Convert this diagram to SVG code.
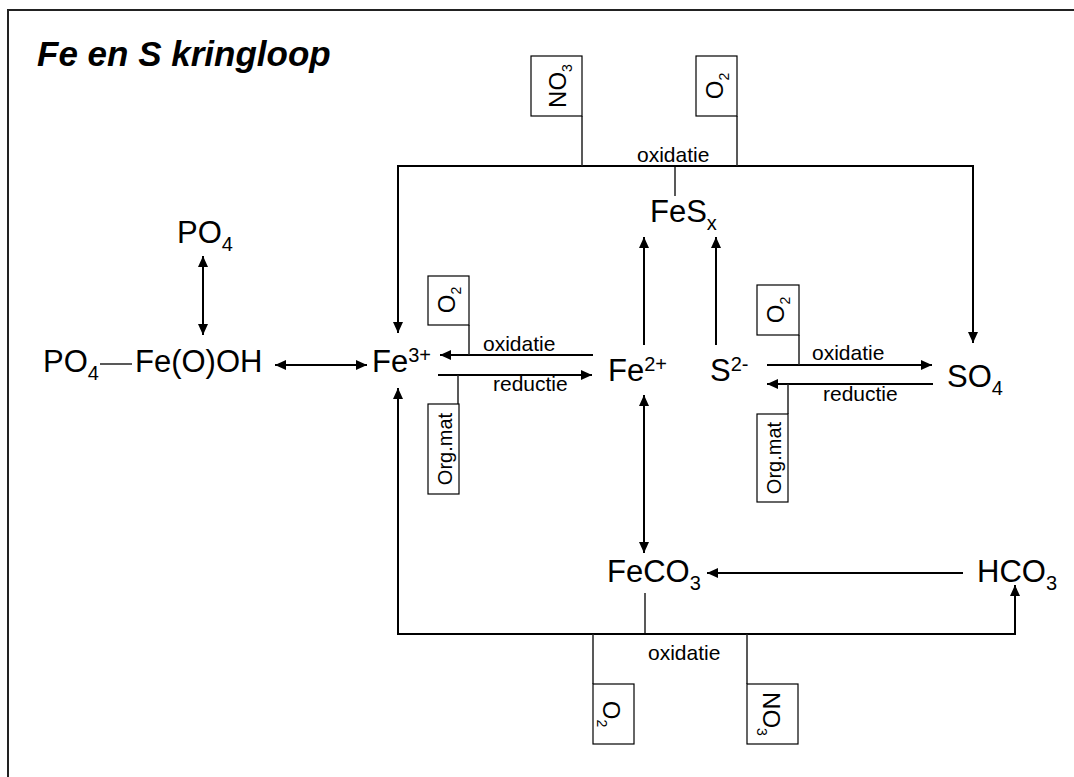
<svg xmlns="http://www.w3.org/2000/svg" width="1074" height="777" viewBox="0 0 1074 777">
<style>
text{font-family:"Liberation Sans",Arial,sans-serif;fill:#000}
.chem{font-size:31px}
.sm{font-size:20px}
.lbl{font-size:21px}
.box{fill:#fff;stroke:#000;stroke-width:1.2}
.bt{font-size:24px}
.bo{font-size:20px}
.bs{font-size:14px}
.ln{fill:none;stroke:#222;stroke-width:1.5}
.ar{fill:none;stroke:#000;stroke-width:2}
</style>
<defs>
<marker id="ah" markerUnits="userSpaceOnUse" markerWidth="11" markerHeight="10" refX="11" refY="5" orient="auto-start-reverse">
<path d="M0,0 L11,5 L0,10 z" fill="#000"/>
</marker>
</defs>
<rect width="1074" height="777" fill="#fff"/>
<path d="M8,777 L8,10 L1074,10" fill="none" stroke="#222" stroke-width="2"/>
<text x="37" y="66" font-size="35" font-weight="bold" font-style="italic">Fe en S kringloop</text>

<g id="connectors">
<line class="ar" x1="203" y1="256" x2="203" y2="335" marker-start="url(#ah)" marker-end="url(#ah)"/>
<line class="ln" x1="100" y1="364" x2="132" y2="364"/>
<line class="ar" x1="275" y1="365" x2="367" y2="365" marker-start="url(#ah)" marker-end="url(#ah)"/>
<path class="ln" d="M675,196 L675,166"/>
<path class="ar" d="M398,333 L398,166 L973,166 L973,343" stroke-width="1.8" marker-start="url(#ah)" marker-end="url(#ah)"/>
<line class="ln" x1="582" y1="116" x2="582" y2="166"/>
<line class="ln" x1="737" y1="116" x2="737" y2="166"/>
<line class="ar" x1="593" y1="355" x2="440" y2="355" marker-end="url(#ah)"/>
<line class="ln" x1="469" y1="325" x2="469" y2="355"/>
<line class="ar" x1="438" y1="375" x2="592" y2="375" marker-end="url(#ah)"/>
<line class="ln" x1="458" y1="375" x2="458" y2="404"/>
<line class="ar" x1="644" y1="345" x2="644" y2="237" marker-end="url(#ah)"/>
<line class="ar" x1="716" y1="345" x2="716" y2="237" marker-end="url(#ah)"/>
<line class="ar" x1="767" y1="365" x2="932" y2="365" marker-end="url(#ah)"/>
<line class="ln" x1="799" y1="335" x2="799" y2="365"/>
<line class="ar" x1="933" y1="384" x2="767" y2="384" marker-end="url(#ah)"/>
<line class="ln" x1="788" y1="384" x2="788" y2="414"/>
<line class="ar" x1="644" y1="395" x2="644" y2="553" marker-start="url(#ah)" marker-end="url(#ah)"/>
<line class="ar" x1="963" y1="573" x2="707" y2="573" marker-end="url(#ah)"/>
<line class="ln" x1="645" y1="593" x2="645" y2="634"/>
<path class="ar" d="M398,388 L398,634 L1015,634 L1015,585" stroke-width="1.8" marker-start="url(#ah)" marker-end="url(#ah)"/>
<line class="ln" x1="593" y1="634" x2="593" y2="684"/>
<line class="ln" x1="747" y1="634" x2="747" y2="684"/>
<text class="lbl" x="637" y="162">oxidatie</text>
<text class="lbl" x="483" y="351">oxidatie</text>
<text class="lbl" x="493" y="391">reductie</text>
<text class="lbl" x="812" y="360">oxidatie</text>
<text class="lbl" x="823" y="401">reductie</text>
<text class="lbl" x="648" y="660">oxidatie</text>
</g>

<g id="po4-top"><text class="chem" x="177" y="243">PO<tspan class="sm" dy="8">4</tspan></text></g>
<g id="po4-left"><text class="chem" x="43" y="372">PO<tspan class="sm" dy="8">4</tspan></text></g>
<g id="feooh"><text class="chem" x="135" y="372">Fe(O)OH</text></g>
<g id="fe3"><text class="chem" x="372" y="372">Fe<tspan class="sm" dy="-10">3+</tspan></text></g>
<g id="fe2"><text class="chem" x="608" y="381">Fe<tspan class="sm" dy="-10">2+</tspan></text></g>
<g id="s2"><text class="chem" x="710" y="381">S<tspan class="sm" dy="-10">2-</tspan></text></g>
<g id="so4"><text class="chem" x="947" y="387">SO<tspan class="sm" dy="8">4</tspan></text></g>
<g id="fesx"><text class="chem" x="650" y="222">FeS<tspan class="sm" dy="8">x</tspan></text></g>
<g id="feco3"><text class="chem" x="607" y="582">FeCO<tspan class="sm" dy="8">3</tspan></text></g>
<g id="hco3"><text class="chem" x="977" y="582">HCO<tspan class="sm" dy="8">3</tspan></text></g>

<g id="box-no3-top"><rect class="box" x="531" y="56" width="51" height="60"/><text class="bt" text-anchor="middle" transform="translate(566,86) rotate(-90)">NO<tspan class="bs" dy="6">3</tspan></text></g>
<g id="box-o2-top"><rect class="box" x="696" y="56" width="41" height="60"/><text class="bt" text-anchor="middle" transform="translate(723,86) rotate(-90)">O<tspan class="bs" dy="6">2</tspan></text></g>
<g id="box-o2-fe"><rect class="box" x="428" y="276" width="41" height="49"/><text class="bt" text-anchor="middle" transform="translate(455,300) rotate(-90)">O<tspan class="bs" dy="6">2</tspan></text></g>
<g id="box-org-fe"><rect class="box" x="428" y="404" width="31" height="90"/><text class="bo" text-anchor="middle" transform="translate(452,449) rotate(-90)">Org.mat</text></g>
<g id="box-o2-s"><rect class="box" x="757" y="285" width="42" height="50"/><text class="bt" text-anchor="middle" transform="translate(784,310) rotate(-90)">O<tspan class="bs" dy="6">2</tspan></text></g>
<g id="box-org-s"><rect class="box" x="757" y="414" width="31" height="88"/><text class="bo" text-anchor="middle" transform="translate(781,458) rotate(-90)">Org.mat</text></g>
<g id="box-o2-bottom"><rect class="box" x="593" y="684" width="41" height="60"/><text class="bt" text-anchor="middle" transform="translate(603,714) rotate(90)">O<tspan class="bs" dy="6">2</tspan></text></g>
<g id="box-no3-bottom"><rect class="box" x="747" y="684" width="51" height="60"/><text class="bt" text-anchor="middle" transform="translate(763,714) rotate(90)">NO<tspan class="bs" dy="6">3</tspan></text></g>
</svg>
